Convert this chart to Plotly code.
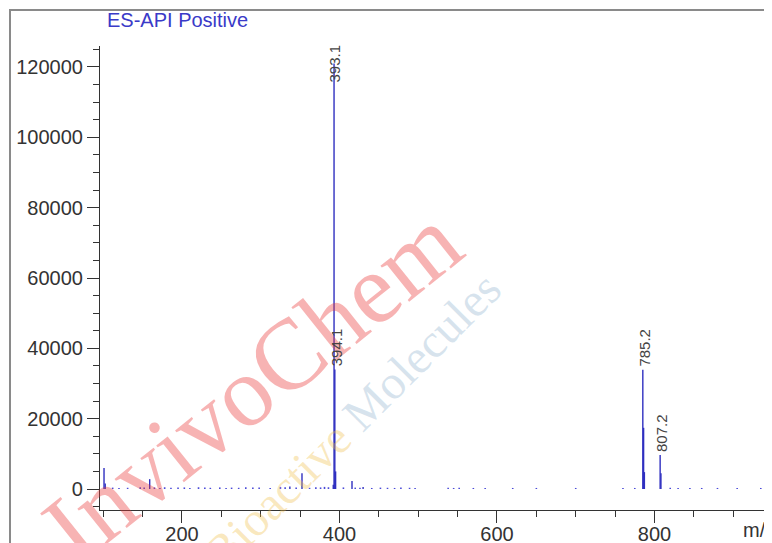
import plotly.graph_objects as go

# ---- data ----
main_mz = [101.0, 102.5, 159.0, 337.0, 352.4, 392.1, 393.1, 394.1, 395.1, 415.9, 430.0,
           785.2, 786.2, 787.2, 807.2, 808.2]
main_int = [6000, 1600, 2800, 700, 4500, 1200, 121000, 34000, 5000, 2300, 600,
            33900, 17400, 4800, 9700, 4500]

noise_mz = [112, 120, 131, 147, 152, 165, 172, 178, 186, 195, 203, 210, 221, 229, 236,
            248, 256, 263, 272, 281, 290, 298, 312, 325, 331, 345, 362, 370, 376, 381,
            386, 405, 420, 426, 441, 452, 461, 470, 478, 489, 496, 538, 545, 552, 570,
            585, 620, 650, 700, 760, 775, 820, 830, 845, 860, 880, 905, 935]
noise_int = [400, 300, 350, 500, 400, 450, 300, 500, 350, 400, 450, 300, 500, 400, 350,
             450, 300, 400, 350, 500, 400, 450, 300, 600, 500, 400, 350, 500, 450, 600,
             500, 450, 400, 350, 300, 400, 350, 300, 400, 350, 300, 350, 300, 350, 300,
             300, 300, 300, 300, 300, 300, 350, 300, 300, 300, 300, 300, 300]

label_mz = [393.1, 394.1, 785.2, 807.2]
label_txt = ["393.1", "394.1", "785.2", "807.2"]
label_int = [121000, 34000, 33900, 9700]

x_range = [95.9, 946.7]
y_range = [-5970, 125970]

# ---- build stick spectrum ----
def sticks(mz, inten):
    xs, ys = [], []
    for m, h in zip(mz, inten):
        xs += [m, m, None]
        ys += [0, h, None]
    return xs, ys

nx, ny = sticks(noise_mz, noise_int)
mx, my = sticks(main_mz, main_int)

fig = go.Figure()
fig.add_trace(go.Scatter(x=nx, y=ny, mode="lines",
                         line=dict(color="#4a4ad8", width=1.6),
                         hoverinfo="skip", showlegend=False))
fig.add_trace(go.Scatter(x=mx, y=my, mode="lines",
                         line=dict(color="#2f2fc0", width=1.4),
                         hoverinfo="skip", showlegend=False))

annotations = []
# watermark (drawn first, below other annotations)
annotations.append(dict(xref="paper", yref="paper", x=(252 - 100) / 670, y=(510 - 384) / 464,
                        xanchor="center", yanchor="middle",
                        text="InvivoChem", textangle=-38.7, showarrow=False,
                        font=dict(family="Liberation Serif, Times New Roman", size=100,
                                  color="rgba(235,55,55,0.38)")))
annotations.append(dict(xref="paper", yref="paper", x=(352 - 100) / 670, y=(510 - 420) / 464,
                        xanchor="center", yanchor="middle",
                        text='<span style="color:rgba(240,190,70,0.35)">Bioactive</span> '
                             '<span style="color:rgba(140,175,205,0.35)">Molecules</span>',
                        textangle=-45, showarrow=False,
                        font=dict(family="Liberation Serif, Times New Roman", size=48)))

for m, t, h in zip(label_mz, label_txt, label_int):
    if h > 100000:
        annotations.append(dict(x=m, y=h, text=t, textangle=-90, showarrow=False,
                                xanchor="center", yanchor="middle",
                                font=dict(family="Liberation Sans, Arial", size=15, color="#444")))
    else:
        annotations.append(dict(x=m, y=h, text=t, textangle=-90, showarrow=False,
                                xanchor="center", yanchor="bottom", yshift=1, xshift=2,
                                font=dict(family="Liberation Sans, Arial", size=15, color="#444")))

# title and axis unit
annotations.append(dict(xref="paper", yref="paper", x=5 / 670, y=(510 - 20) / 464,
                        text="ES-API Positive", showarrow=False, xanchor="left", yanchor="middle",
                        font=dict(family="Liberation Sans, Arial", size=20, color="#3a3ac8")))
annotations.append(dict(xref="paper", yref="paper", x=(741 - 100) / 670, y=(510 - 530) / 464,
                        text="m/z", showarrow=False, xanchor="left", yanchor="middle",
                        font=dict(family="Liberation Sans, Arial", size=20, color="#333")))

# the page places the figure 8px from the top-left corner, so margins are reduced by 8
fig.update_layout(
    width=764, height=535,
    margin=dict(l=92, r=2, t=38, b=33, autoexpand=False),
    paper_bgcolor="white", plot_bgcolor="white",
    showlegend=False,
    annotations=annotations,
    shapes=[dict(type="rect", xref="paper", yref="paper",
                 x0=(10 - 100) / 670, x1=1.0, y0=-0.12, y1=(510 - 10) / 464,
                 line=dict(color="#8a8a8a", width=2), fillcolor="rgba(0,0,0,0)")],
)
fig.update_xaxes(range=x_range, automargin=False, showgrid=False, zeroline=False, showline=True,
                 linecolor="#333", linewidth=1.2, ticks="outside", ticklen=12, tickwidth=1.2,
                 tickcolor="#333", tickvals=[200, 400, 600, 800], ticklabelstandoff=-6,
                 minor=dict(tickvals=[100, 150, 250, 300, 350, 450, 500, 550, 650, 700, 750, 850, 900],
                            ticks="outside", ticklen=6, tickcolor="#333", tickwidth=1.2),
                 tickfont=dict(family="Liberation Sans, Arial", size=20, color="#333"))
fig.update_yaxes(range=y_range, automargin=False, showgrid=False, zeroline=False, showline=True,
                 linecolor="#333", linewidth=1.2, ticks="outside", ticklen=12, tickwidth=1.2,
                 tickcolor="#333", tickvals=[0, 20000, 40000, 60000, 80000, 100000, 120000],
                 tickformat="d",
                 minor=dict(tickvals=[-5000, 5000, 10000, 15000, 25000, 30000, 35000, 45000, 50000,
                                      55000, 65000, 70000, 75000, 85000, 90000, 95000, 105000,
                                      110000, 115000, 125000],
                            ticks="outside", ticklen=6, tickcolor="#333", tickwidth=1.2),
                 tickfont=dict(family="Liberation Sans, Arial", size=20, color="#333"))

fig.write_html("out.html")
